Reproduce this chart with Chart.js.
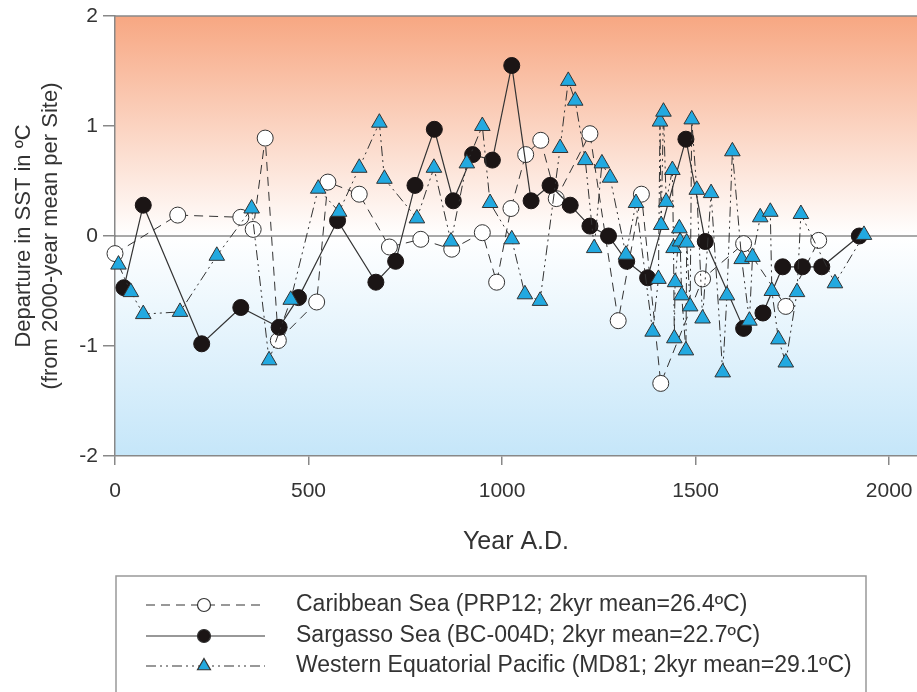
<!DOCTYPE html>
<html>
<head>
<meta charset="utf-8">
<script src="https://cdn.jsdelivr.net/npm/chart.js@4.4.1/dist/chart.umd.min.js"></script>
<style>
  html, body { margin: 0; padding: 0; background: #fff; overflow: hidden; }
  #caja { width: 917px; height: 692px; }
  canvas { display: block; }
</style>
</head>
<body>
<div id="caja"><canvas id="grafico" width="917" height="692"></canvas></div>
<script>
// Caribbean Sea (PRP12)
const carYears = [0, 162, 325, 357, 388, 422, 521, 550, 631, 709, 790, 870, 949, 986, 1023, 1061, 1100, 1140, 1227, 1300, 1360, 1410, 1518, 1624, 1733, 1818]
const carValues = [-0.16, 0.19, 0.17, 0.06, 0.89, -0.95, -0.60, 0.49, 0.38, -0.10, -0.03, -0.12, 0.03, -0.42, 0.25, 0.74, 0.87, 0.34, 0.93, -0.77, 0.38, -1.34, -0.39, -0.07, -0.64, -0.04]

// Sargasso Sea (BC-004D)
const sarYears = [23, 73, 224, 325, 424, 474, 575, 674, 725, 775, 825, 874, 924, 975, 1025, 1075, 1124, 1176, 1227, 1275, 1322, 1376, 1475, 1525, 1624, 1674, 1725, 1776, 1826, 1923]
const sarValues = [-0.47, 0.28, -0.98, -0.65, -0.83, -0.56, 0.14, -0.42, -0.23, 0.46, 0.97, 0.32, 0.74, 0.69, 1.55, 0.32, 0.46, 0.28, 0.09, 0.00, -0.23, -0.38, 0.88, -0.05, -0.84, -0.70, -0.28, -0.28, -0.28, 0.00]

// Western Equatorial Pacific (MD81)
const pacYears = [9, 41, 73, 168, 263, 353, 398, 454, 525, 579, 631, 683, 696, 780, 824, 868, 909, 949, 969, 1025, 1059, 1098, 1150, 1171, 1189, 1215, 1238, 1258, 1279, 1320, 1346,
  1389, 1404, 1408, 1411, 1417, 1424, 1440, 1443, 1445, 1447, 1458, 1460, 1464, 1475, 1477, 1486, 1490, 1503, 1518, 1540,
  1570, 1581, 1595, 1619, 1639, 1647, 1667, 1693, 1697, 1714, 1733, 1762, 1772, 1860, 1935]
const pacValues = [-0.26, -0.51, -0.71, -0.69, -0.18, 0.25, -1.13, -0.58, 0.43, 0.22, 0.62, 1.03, 0.52, 0.16, 0.62, -0.05, 0.66, 1.00, 0.30, -0.03, -0.53, -0.59, 0.80, 1.41, 1.23, 0.69, -0.11, 0.66, 0.53, -0.17, 0.30,
  -0.87, -0.39, 1.04, 0.10, 1.13, 0.31, 0.60, -0.11, -0.93, -0.42, 0.07, -0.05, -0.54, -1.04, -0.06, -0.64, 1.06, 0.42, -0.75, 0.39,
  -1.24, -0.54, 0.77, -0.21, -0.77, -0.19, 0.17, 0.22, -0.50, -0.94, -1.15, -0.51, 0.20, -0.43, 0.01]

const xTicks = [0, 500, 1000, 1500, 2000]
const yTicks = [-2, -1, 0, 1, 2]

const legendLabels = [
  "Caribbean Sea (PRP12; 2kyr mean=26.4ºC)",
  "Sargasso Sea (BC-004D; 2kyr mean=22.7ºC)",
  "Western Equatorial Pacific (MD81; 2kyr mean=29.1ºC)"
]

const fuente = "'Liberation Sans', Arial, Helvetica, sans-serif"
const gris = "#333"
const dashCar = [9, 6]
const dashPac = [10, 4, 2, 4, 2, 4]

const puntos = (xs, ys) => xs.map((x, i) => ({ x: x, y: ys[i] }))

// fondo degradado, linea de cero y borde superior
const fondoPlugin = {
  id: "fondo",
  beforeDraw(chart) {
    const { ctx, chartArea: ca } = chart
    const g = ctx.createLinearGradient(0, ca.top, 0, ca.bottom)
    g.addColorStop(0, "rgb(247,167,130)")
    g.addColorStop(0.5, "rgb(255,255,255)")
    g.addColorStop(1, "rgb(197,230,249)")
    ctx.save()
    ctx.fillStyle = g
    ctx.fillRect(ca.left, ca.top, ca.right - ca.left, ca.bottom - ca.top)
    ctx.restore()
  },
  beforeDatasetsDraw(chart) {
    const { ctx, chartArea: ca, scales } = chart
    ctx.save()
    const y0 = scales.y.getPixelForValue(0)
    ctx.strokeStyle = "#555"
    ctx.lineWidth = 1.2
    ctx.beginPath()
    ctx.moveTo(ca.left, y0)
    ctx.lineTo(ca.right, y0)
    ctx.stroke()
    ctx.strokeStyle = "#888"
    ctx.lineWidth = 1.5
    ctx.beginPath()
    ctx.moveTo(ca.left, ca.top)
    ctx.lineTo(ca.right, ca.top)
    ctx.stroke()
    ctx.restore()
  }
}

// leyenda en caja debajo del grafico
const leyendaPlugin = {
  id: "leyenda",
  afterDraw(chart) {
    const { ctx } = chart
    ctx.save()
    ctx.strokeStyle = "#999"
    ctx.lineWidth = 1.5
    ctx.strokeRect(116, 576, 750, 130)

    const filas = [605, 636, 666]
    filas.forEach((y, i) => {
      ctx.strokeStyle = gris
      ctx.lineWidth = 1.2
      ctx.setLineDash(i === 0 ? dashCar : (i === 2 ? dashPac : []))
      ctx.beginPath()
      ctx.moveTo(146, y)
      ctx.lineTo(265, y)
      ctx.stroke()
      ctx.setLineDash([])

      ctx.beginPath()
      if (i === 2) {
        const r = 7.5
        ctx.moveTo(204, y - r)
        ctx.lineTo(204 + r * 0.866, y + r / 2)
        ctx.lineTo(204 - r * 0.866, y + r / 2)
        ctx.closePath()
        ctx.fillStyle = "#22a9e0"
      } else {
        ctx.arc(204, y, 6.5, 0, Math.PI * 2)
        ctx.fillStyle = i === 0 ? "#fff" : "#1b1515"
      }
      ctx.fill()
      ctx.stroke()

      ctx.fillStyle = gris
      ctx.font = "23px " + fuente
      ctx.textBaseline = "middle"
      ctx.textAlign = "left"
      ctx.fillText(legendLabels[i], 296, y)
    })
    ctx.restore()
  }
}

const config = {
  type: "line",
  data: {
    datasets: [
      {
        label: legendLabels[2],
        data: puntos(pacYears, pacValues),
        borderColor: gris,
        borderWidth: 1,
        borderDash: dashPac,
        pointStyle: "triangle",
        pointRadius: 9,
        pointBackgroundColor: "#22a9e0",
        pointBorderColor: gris,
        pointBorderWidth: 1,
        tension: 0,
        order: 0
      },
      {
        label: legendLabels[1],
        data: puntos(sarYears, sarValues),
        borderColor: gris,
        borderWidth: 1.2,
        pointStyle: "circle",
        pointRadius: 8,
        pointBackgroundColor: "#1b1515",
        pointBorderColor: "#1b1515",
        pointBorderWidth: 1,
        tension: 0,
        order: 1
      },
      {
        label: legendLabels[0],
        data: puntos(carYears, carValues),
        borderColor: gris,
        borderWidth: 1,
        borderDash: dashCar,
        pointStyle: "circle",
        pointRadius: 8,
        pointBackgroundColor: "#fff",
        pointBorderColor: gris,
        pointBorderWidth: 1,
        tension: 0,
        order: 2
      }
    ]
  },
  options: {
    responsive: false,
    animation: false,
    clip: false,
    layout: { autoPadding: false, padding: { top: 16, right: 0, left: 0, bottom: 0 } },
    plugins: {
      legend: { display: false },
      tooltip: { enabled: false }
    },
    scales: {
      x: {
        type: "linear",
        min: 0,
        max: 2072,
        afterBuildTicks: (scale) => { scale.ticks = xTicks.map(v => ({ value: v })) },
        afterFit: (scale) => {
          scale.height = 236
          scale.paddingLeft = 0
          scale.paddingRight = 0
        },
        ticks: {
          color: gris, padding: 14, font: { family: fuente, size: 21 },
          callback: (v) => String(v)
        },
        grid: { drawOnChartArea: false, tickLength: 9, color: "#888", lineWidth: 1.5 },
        border: { color: "#888", width: 1.5 },
        title: {
          display: true,
          text: "Year A.D.",
          color: gris,
          font: { family: fuente, size: 25 },
          padding: { top: 135, bottom: 135 }
        }
      },
      y: {
        min: -2,
        max: 2,
        afterBuildTicks: (scale) => { scale.ticks = yTicks.map(v => ({ value: v })) },
        afterFit: (scale) => {
          scale.width = 115
          scale.paddingTop = 0
          scale.paddingBottom = 0
        },
        ticks: { color: gris, padding: 5, font: { family: fuente, size: 21 } },
        grid: { drawOnChartArea: false, tickLength: 12, color: "#888", lineWidth: 1.5 },
        border: { color: "#888", width: 1.5 },
        title: {
          display: true,
          text: ["Departure in SST in ºC", "(from 2000-year mean per Site)"],
          color: gris,
          font: { family: fuente, size: 22, lineHeight: 1.25 },
          padding: { top: 10, bottom: 10 }
        }
      }
    }
  },
  plugins: [fondoPlugin, leyendaPlugin]
}

const canva = document.getElementById("grafico").getContext("2d")
window.miGrafico = new Chart(canva, config)
</script>
</body>
</html>
